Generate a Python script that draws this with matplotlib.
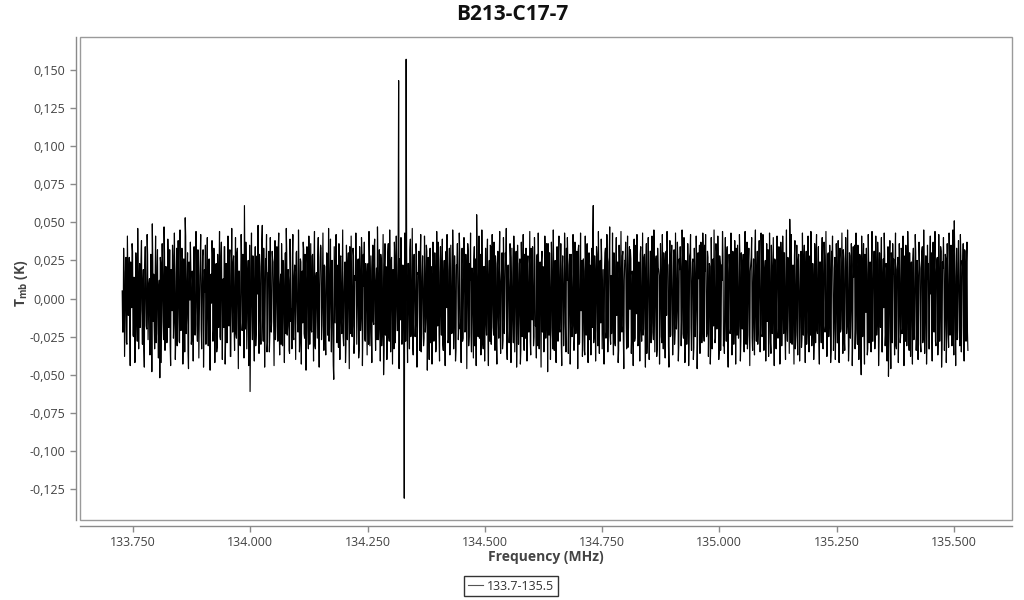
import numpy as np
import matplotlib
matplotlib.use("Agg")
import matplotlib.pyplot as plt
from matplotlib.patches import Rectangle
from matplotlib.lines import Line2D

plt.rcParams['font.family'] = ['Open Sans', 'DejaVu Sans']
plt.rcParams['mathtext.fontset'] = 'custom'
plt.rcParams['mathtext.rm'] = 'Open Sans'
plt.rcParams['mathtext.bf'] = 'Open Sans:bold'

title = "B213-C17-7"
series_name = "133.7-135.5"
freq_start = 133.727   # MHz, first channel
freq_end = 135.530     # MHz, last channel

# Tmb values in mK for the even channels
tmb_even_1 = [
    5, -22, 18, -9, 27, -30, 12, 3, -17, 24, -6, 31, -25, 8, -14, 20, -28, 15, 1, -19,
    26, -11, 9, -33, 22, 4, -20, 29, -7, 13, -26, 17, 49, -15, -18, 10, -29, 21, -12, 6,
    -52, 23, -4, 16, -27, 30, -13, 7, -21, 25, 2, -31, 19, -8, 28, -16, 11, -24, 33, -5,
    14, -29, 21, -10, 27, -19, 3, 53, -23, 12, -34, 24, -1, 18, -26, 9, 30, -15, -6, 22,
    -28, 15, -11, 26, -20, 7, 32, -17, 4, -30, 19, -9, 25, -24, 13, -3, 29, -21, 10, -14,
    23, -32, 8, 17, -25, 28, -6, 12, -19, 34, -27, 5, 20, -12, 26, -38, 15, -2, 24, -18,
    9, -23, 30, -11, 18, -29, 6, 27, -16, 21, 61, -20, 14, -7, 25, -26, -61, 19, -9, 28,
    -22, 11, -31, 24, 3, -17, 29, -13, 16, 48, -28, 8, -5, 22, -35, 17, 31, -24, 2, -15,
    26, -10, 13, -27, 20, -4, 33, -21, 9, -30, 18, 25, -14, 7, -23, 29, -18, 12, -36, 21,
    -7, 27, -25, 15, -12, 30, -1, -22, 19, -29, 24, 6, -16, 32, -26, 10, -8, 23, -33, 17,
    4, -20, 28, -13, 21, -31, 14, -3, 26, -19, 8, 35, -27, 16, -10, 22, -24, 5, 29, -15,
    -28, 18, -6, 25, -21, -53, 11, 31, -17, 20, -32, 9, 27, -12, 15, -25, 3, 24, -30, 13,
    21, -9, 34, -23, 6, -18, 28, -29, 12, 19, -4, 26, -34, 17, -13, 30, -20, 8, -26, 23,
    -11, 16, -30, 27, 2, -22, 20, -15, 33, -8, 11, -27, 25, -18, 14, 29, -31, 7, -50, 22,
    -24, 13, -16, 36, -28, 10, 24, -12, 19, -33, 28, -7, 15, -21, 143, 26, -14, 9, -27, 20,
]
tmb_even_2 = [
    -131, 18, 157, -19, 23, -10, 32, -25, 12, -30, 21, 4, -17, 29, -22, 16, -8, 27, -35, 14,
    6, -26, 20, -13, 31, -18, 9, 25, -29, 15, -3, 27, -20, 11, -32, 22, 37, -24, 17, -9,
    24, -30, 13, -15, 28, -6, 19, -27, 33, -11, 8, -22, 26, -17, 14, -34, 21, 2, -19, 30,
    -14, 23, -28, 10, 27, -21, 16, -8, 31, -25, 12, -23, 20, -12, 25, -31, 7, 55, -18, 15,
    -26, 29, -10, 18, -33, 21, 5, -16, 26, -22, 13, -28, 34, -7, 17, -24, 9, 28, -30, 20,
    -12, 25, -19, 11, 30, -27, 14, -4, 22, -32, 18, 7, -21, 27, -15, 10, -29, 24, -6, 31,
    -23, 16, -11, 26, -34, 19, 3, -18, 29, -26, 12, 23, -9, 15, -28, 33, -14, 8, -25, 21,
    -17, 28, -31, 13, 20, -7, 25, -22, 10, -30, 27, -13, 17, 36, -24, 6, -19, 24, -33, 14,
    2, -27, 22, -10, 31, -20, 15, -29, 19, 8, -16, 26, -35, 12, 23, -11, 29, -23, 5, -18,
    27, -26, 16, -14, 21, 32, -30, 9, -8, 25, -21, 18, -37, 14, 28, -12, 20, -27, 11, 24,
    -19, 61, -24, 17, -9, 29, -31, 13, 22, -16, 26, -5, -28, 19, 33, -22, 10, -13, 27, -25,
    15, 3, -20, 30, -29, 21, -11, 24, -34, 16, 8, -18, 28, -26, 12, 25, -15, 19, -32, 22,
    -7, 26, -23, 14, 34, -28, 18, -10, 23, -30, 11, 29, -19, 6, -24, 27, -14, 20, -36, 17,
    9, -21, 31, -16, 24, -27, 13, -2, 28, -33, 20, 15, -12, 26, -29, 10, 30, -20, 18, -11,
    23, -31, 14, -25, 27, 5, -17, 32, -22, 12, -8, 25, -30, 19, 21, -14, 28, -26, 7, -35,
]
tmb_even_3 = [
    22, -13, 17, -24, 30, -19, 11, 26, -32, 16, -6, 24, -27, 13, 35, -21, 8, -16, 29, -28,
    18, 4, -23, 27, -12, 21, -30, 15, 25, -18, 10, -26, 31, -9, 19, -34, 23, -15, 12, 28,
    -25, 14, -7, 30, -29, 17, 22, -20, 9, -31, 26, -11, 16, 33, -24, 6, -18, 27, -28, 13,
    20, -22, 29, -14, 8, -33, 24, -5, 18, 27, -26, 11, -19, 31, -12, 16, -30, 22, 3, -17,
    28, -23, 13, -28, 25, 10, -15, 32, -21, 17, -36, 20, 7, -13, 26, -27, 15, 23, -20, 9,
    -31, 24, -10, 19, 30, -25, 12, -18, 27, -6, 52, -29, 16, 21, -14, 28, -33, 11, -22, 25,
    5, -19, 31, -26, 14, 23, -12, 18, -30, 26, -8, 17, -24, 33, -16, 10, -28, 22, 29, -21,
    13, -27, 24, -9, 20, -32, 16, 28, -18, 7, -25, 30, -13, 19, -34, 25, 4, -20, 27, -15,
    21, -29, 11, 26, -22, 15, -11, 32, -27, 18, 24, -16, 9, -31, 28, -7, 22, -25, 14, 35,
    -20, 17, -30, 23, -12, 27, -50, 12, 19, -24, 29, -9, 16, -33, 21, 8, -17, 26, -28, 13,
    31, -21, 18, -14, 25, -26, 10, 22, -35, 15, -6, 28, -23, 20, 12, -51, 26, -18, 30, -29,
    16, -10, 24, -31, 19, 27, -15, 13, -24, 32, -20, 8, 21, -28, 17, -12, 29, -34, 14, 23,
    -18, 26, -27, 11, 30, -22, 15, -7, 25, -30, 19, 34, -25, 9, -16, 28, -21, 13, -33, 24,
    3, -19, 29, -14, 22, -28, 17, 27, -24, 12, -9, 31, -29, 20, 16, -17, 26, -23, 10, -32,
    25, -13, 21, 30, -26, 51, -20, 14, -27, 23, 8, -31, 28, -18, 19, -25, 32, -11, 24, -22,
]

# Tmb values in mK for the odd channels
tmb_odd_1 = [
    -22, 33, -38, 17, -29, 41, -11, 27, -44, 21, 36, -24, 14, -42, 30, -16, 46, -33, 23, -8,
    38, -30, 19, -45, 34, -18, 42, -27, 10, -37, 29, -48, 24, 16, -33, 41, -23, 32, -39, 12,
    27, -42, 36, -15, 47, -34, 21, -29, 39, -19, 32, -44, 11, 35, -26, 43, -40, 17, -31, 38,
    -28, 45, -21, 33, -43, 26, -35, 41, -13, 30, -46, 22, 37, -30, 18, -41, 34, -24, 44, -17,
    32, -39, 15, 42, -33, 28, -45, 19, 35, -23, 40, -31, 26, -47, 16, 38, -28, 33, -42, 22,
    -35, 29, -19, 44, -27, 37, -40, 13, 34, -43, 23, -29, 41, -18, 32, -38, 46, -22, 28, -34,
    40, -26, 33, -46, 18, -31, 42, -21, 29, -39, 24, 37, -33, 15, -44, 35, -17, 43, -27, 19,
    -41, 34, -23, 28, 48, -36, 21, -30, 39, -16, 33, -45, 26, 42, -29, 17, -35, 40, -22, 31,
    24, -44, 38, -18, 34, -28, 43, -37, 16, 36, -31, 23, -42, 30, 46, -24, 19, -34, 39, -15,
    -33, 42, -27, 22, -40, 31, -17, 45, -35, 26, -43, 18, 37, -23, 29, -47, 34, -19, 41, -30,
    36, -22, 29, -41, 44, -33, 17, -26, 40, -45, 27, 33, -18, 43, -34, 21, -37, 30, -24, 46,
    -19, 39, -35, 25, -44, 34, -16, 42, -29, 22, 36, -40, 28, -23, 45, -31, 18, -42, 35, -27,
    30, -46, 21, 41, -25, 33, -36, 15, 43, -30, 24, -39, 34, -21, 40, -44, 29, 37, -28, 17,
    -37, 23, 44, -31, 28, -42, 35, -17, 39, -34, 20, 47, -27, 32, -41, 25, -22, 42, -33, 36,
    21, -40, 30, -24, 45, -35, 27, -43, 18, 37, -29, 41, -21, 33, -46, 24, 40, -30, 22, -36,
]
tmb_odd_2 = [
    43, -28, 34, -42, 23, -33, 39, -19, 46, -37, 29, -25, 36, -45, 17, 31, -34, 42, -23, 28,
    -31, 41, -22, 35, -47, 27, -40, 33, 21, -43, 37, -28, 30, -35, 44, -18, 25, -41, 34, -24,
    39, -34, 25, -44, 31, 42, -29, 18, -37, 35, -23, 45, -33, 28, -41, 22, 36, -27, 43, -20,
    -42, 33, -26, 40, -22, 29, -46, 36, -31, 23, 43, -35, 17, -39, 34, 26, -44, 30, -25, 41,
    28, -37, 45, -29, 21, -41, 33, -24, 39, -44, 25, 35, -30, 42, -19, 37, -34, 23, -43, 31,
    -26, 44, -36, 19, -33, 40, -23, 30, 46, -40, 22, -29, 36, -42, 33, -17, 41, -35, 26, -45,
    35, -30, 23, -43, 37, -25, 42, -34, 17, 33, -41, 28, -22, 44, -37, 24, 34, -31, 40, -18,
    -39, 29, 43, -33, 24, -45, 31, 21, -35, 41, -26, 36, -48, 23, 30, -40, 37, -21, 45, -34,
    25, -42, 34, -28, 41, -22, 36, -44, 28, -31, 43, -18, 33, 40, -36, 22, -43, 29, -25, 42,
    -34, 37, -23, 31, -46, 35, -29, 43, 18, -38, 26, -34, 41, -24, 36, -42, 30, 22, -37, 33,
    41, -29, 28, -41, 34, -20, 44, -36, 25, 39, -33, 19, -43, 30, -26, 42, -35, 24, 47, -30,
    -23, 43, -37, 26, -31, 40, 22, -42, 35, -28, 44, -22, 31, -46, 25, 37, -33, 41, -19, 34,
    32, -36, 18, -44, 39, -26, 35, 42, -31, 24, -41, 34, -28, 43, -20, 29, -45, 36, -24, 40,
    -40, 31, -29, 41, -22, 45, -35, 25, -38, 33, 19, -43, 36, -25, 42, -33, 23, -39, 31, 44,
    22, -45, 38, -24, 35, -37, 29, -30, 43, -20, 37, -41, 26, 34, -31, 45, -23, 40, -42, 25,
]
tmb_odd_3 = [
    -30, 36, -44, 28, 42, -34, 24, -40, 33, -25, 41, -46, 30, 20, -36, 37, -29, 43, -22, 35,
    42, -25, 31, -38, 23, -43, 40, -33, 26, 45, -29, 36, -20, 41, -40, 28, -34, 22, 44, -31,
    -36, 40, -28, 34, -45, 29, -23, 43, -37, 31, -30, 38, -43, 24, 35, -26, 42, -41, 30, -20,
    29, -35, 44, -30, 37, -24, 33, -44, 23, 40, -34, 26, -37, 45, -28, 31, -20, 38, -35, 43,
    -25, 42, -34, 20, -41, 36, 30, -38, 43, -29, 35, -23, 40, -44, 25, -33, 41, -26, 34, -43,
    37, -31, 41, -23, 30, -40, 45, -28, 24, -36, 33, 42, -30, 22, -43, 38, -24, 35, -37, 29,
    -41, 26, -32, 43, -24, 35, -42, 31, -22, 41, -35, 28, 44, -31, 23, -40, 36, -29, 42, -23,
    34, -43, 24, -29, 40, -33, 37, -22, 44, -38, 29, -25, 35, -42, 31, 41, -34, 20, -40, 36,
    -29, 38, -42, 33, -20, 43, -36, 26, -34, 40, -23, 45, -41, 30, -26, 36, -44, 34, 25, -33,
    43, -23, 35, -40, 29, -34, 41, -25, 36, -43, 22, 33, -37, 42, -29, 24, -35, 44, -28, 31,
    -33, 41, -24, 37, -44, 30, -19, 40, -35, 26, 43, -31, 23, -41, 34, -28, 38, -46, 29, 36,
    26, -37, 43, -33, 22, -42, 36, -29, 33, -23, 41, -44, 28, 35, -31, 44, -25, 30, -38, 24,
    -43, 33, -26, 42, -34, 25, -40, 37, 20, -35, 31, -29, 45, -36, 28, -43, 35, 23, -33, 41,
    30, -41, 37, -22, 44, -31, 26, -37, 42, -28, 34, -45, 24, 40, -34, 29, -42, 36, -23, 43,
    -24, 35, -31, 45, -37, 28, -44, 33, -26, 38, -20, 42, -35, 25, 36, -41, 31, -28, 37, -34,
]

x_ticks = [133.75, 134.0, 134.25, 134.5, 134.75, 135.0, 135.25, 135.5]
x_tick_labels = ["133.750", "134.000", "134.250", "134.500", "134.750", "135.000", "135.250", "135.500"]
y_ticks = [-0.125, -0.1, -0.075, -0.05, -0.025, 0.0, 0.025, 0.05, 0.075, 0.1, 0.125, 0.15]
y_tick_labels = ["-0,125", "-0,100", "-0,075", "-0,050", "-0,025", "0,000",
                 "0,025", "0,050", "0,075", "0,100", "0,125", "0,150"]

even = np.array(tmb_even_1 + tmb_even_2 + tmb_even_3, dtype=float)
odd = np.array(tmb_odd_1 + tmb_odd_2 + tmb_odd_3, dtype=float)
tmb = np.empty(even.size + odd.size)
tmb[0::2] = even
tmb[1::2] = odd
tmb /= 1000.0   # mK -> K
freq = np.linspace(freq_start, freq_end, tmb.size)

W, H = 1024, 600
fig = plt.figure(figsize=(W / 100, H / 100), dpi=100)
fig.patch.set_facecolor('white')
L, R, T, B = 80, 1012, 37, 520
ax = fig.add_axes([L / W, 1 - B / H, (R - L) / W, (B - T) / H])

ax.plot(freq, tmb, color='black', lw=0.85, label=series_name)
ax.set_xlim(133.637, 135.624)
ax.set_ylim(-0.1453, 0.1716)

ax.set_xticks(x_ticks)
ax.set_xticklabels(x_tick_labels)
ax.set_yticks(y_ticks)
ax.set_yticklabels(y_tick_labels)

grey = '#8a8a8a'
for s in ['top', 'right']:
    ax.spines[s].set_visible(False)
ax.spines['left'].set_position(('outward', 3))
ax.spines['bottom'].set_position(('outward', 4))
for s in ['left', 'bottom']:
    ax.spines[s].set_color(grey)
    ax.spines[s].set_linewidth(1.0)
ax.add_patch(Rectangle((0, 0), 1, 1, transform=ax.transAxes, fill=False,
                       edgecolor='#9a9a9a', lw=1.0, clip_on=False, zorder=5))
ax.tick_params(axis='both', colors=grey, labelcolor='#444444', labelsize=9,
               length=4, width=1)

fig.text(0.5, 1 - 15 / H, title, ha='center', va='center', fontsize=15,
         fontweight='bold', color='#111111')
fig.text(546 / W, 1 - 557 / H, "Frequency (MHz)", ha='center', va='center',
         fontsize=10, fontweight='bold', color='#444444')
fig.text(22 / W, 1 - 283 / H, r"$\mathbf{T}_{\mathregular{mb}}$ (K)", ha='center', va='center',
         rotation=90, fontsize=10, fontweight='bold', color='#444444')

leg = fig.legend(handles=[Line2D([0], [0], color='#555555', lw=0.8)], labels=[series_name],
                 loc='center', bbox_to_anchor=(511 / W, 1 - 586 / H), fontsize=9,
                 frameon=True, fancybox=False, edgecolor='black', handlelength=1.2,
                 handletextpad=0.35, borderpad=0.3, borderaxespad=0)
leg.get_frame().set_linewidth(1.0)
for t in leg.get_texts():
    t.set_color('#333333')

fig.savefig("out.png", dpi=100, facecolor='white')
